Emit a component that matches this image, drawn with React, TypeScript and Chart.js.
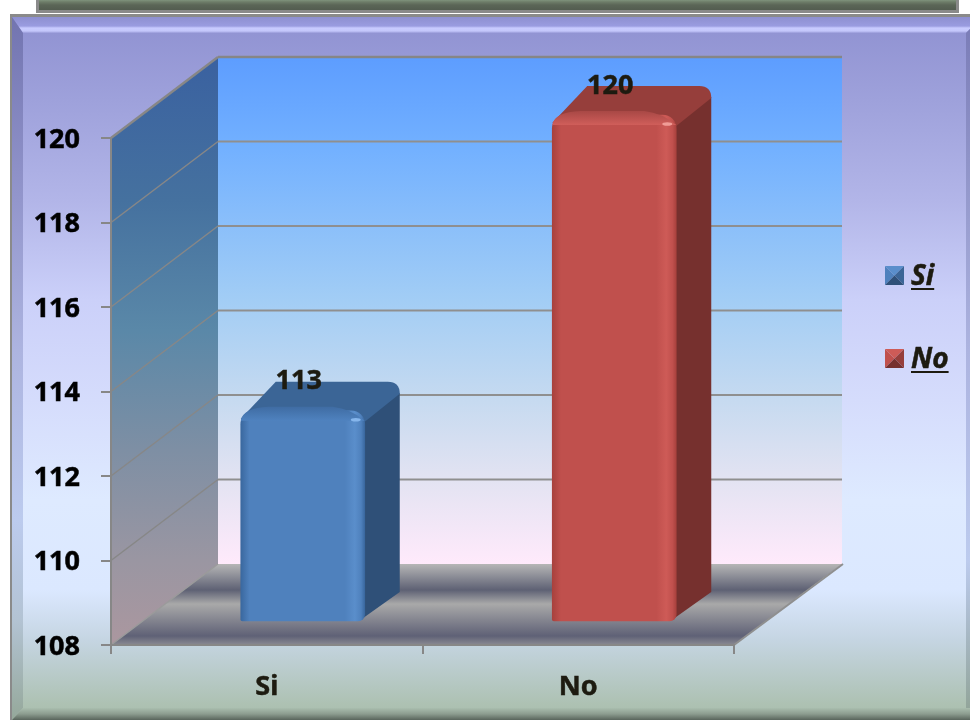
import React, { useEffect, useRef } from "react";
import { Chart, registerables } from "chart.js";

Chart.register(...registerables);

const categories = ["Si", "No"];
const values = [113, 120];
const axisMin = 108;
const axisMax = 120;
const axisStep = 2;

const FONT = '"Noto Sans", sans-serif';
const INK = "#1d1b10";
const LINE = "#878787";

// Depth of the 3D box, in pixels
const WALL_DX = 107;
const WALL_DY = -81;
const BAR_DX = 36;
const BAR_DY = -23;
const BAR_DEPTH_X = 35;
const BAR_DEPTH_Y = -29;
const BAR_WIDTH = 124;

const palettes = [
  { edge: "#3a689f", face: "#4f81bd", glow: "#5a8ecb", side: "#2f5078", top: "#3b6596", bevelA: "#3f6ca3", bevelB: "#4f82bf", spark: "#86b6ec" },
  { edge: "#a8413d", face: "#c0504d", glow: "#ce5b57", side: "#76302e", top: "#963e3b", bevelA: "#a84845", bevelB: "#d05e5a", spark: "#f09c96" },
];

function vGrad(ctx: CanvasRenderingContext2D, y0: number, y1: number, stops: [number, string][]) {
  const g = ctx.createLinearGradient(0, y0, 0, y1);
  stops.forEach(([y, c]) => g.addColorStop((y - y0) / (y1 - y0), c));
  return g;
}

function poly(ctx: CanvasRenderingContext2D, pts: number[][], fill: any) {
  ctx.beginPath();
  pts.forEach(([x, y], i) => (i ? ctx.lineTo(x, y) : ctx.moveTo(x, y)));
  ctx.closePath();
  ctx.fillStyle = fill;
  ctx.fill();
}

function line(ctx: CanvasRenderingContext2D, x0: number, y0: number, x1: number, y1: number, w = 2, c = LINE) {
  ctx.beginPath();
  ctx.moveTo(x0, y0);
  ctx.lineTo(x1, y1);
  ctx.lineWidth = w;
  ctx.strokeStyle = c;
  ctx.stroke();
}

const framePlugin = {
  id: "frame",
  beforeDraw(chart: any) {
    const c: CanvasRenderingContext2D = chart.ctx;
    c.save();
    c.fillStyle = "#ffffff";
    c.fillRect(0, 0, 970, 720);

    // banner cut off at the top
    c.fillStyle = "#8a8a8a";
    c.fillRect(36, 0, 923, 13);
    c.fillStyle = vGrad(c, 0, 10, [[0, "#7f937d"], [2, "#6d7c68"], [5, "#5b6657"], [10, "#535d50"]]);
    c.fillRect(39, 0, 917, 10);

    // chart panel
    c.fillStyle = "#8a8a8a";
    c.fillRect(10, 14, 960, 706);
    const panel = vGrad(c, 17, 720, [
      [17, "#8f91d1"], [100, "#9ea1db"], [200, "#b2b5e8"], [300, "#cbd0f9"], [400, "#d5dcfc"],
      [500, "#deeaff"], [590, "#dbe8ff"], [640, "#c5d5e2"], [705, "#adc1b2"], [720, "#a8bbac"],
    ]);
    c.fillStyle = panel;
    c.fillRect(12, 17, 958, 703);

    // bevel strips
    poly(c, [[12, 17], [970, 17], [970, 29], [966, 33], [23, 33]],
      vGrad(c, 17, 33, [[17, "#8d8fd0"], [26, "#9a9ce0"], [28, "#c8cbff"], [31, "#c4c7fb"], [33, "#9799d8"]]));
    poly(c, [[12, 17], [23, 33], [23, 708], [12, 720]],
      vGrad(c, 17, 720, [[17, "#7274b0"], [200, "#9396cc"], [350, "#adb4e0"], [520, "#bccbee"], [620, "#b3c3d3"], [720, "#95a89a"]]));
    poly(c, [[966, 33], [970, 29], [970, 720], [966, 716]],
      vGrad(c, 29, 720, [[29, "#7b7db8"], [350, "#adb4e0"], [560, "#bccbee"], [720, "#8fa294"]]));
    poly(c, [[12, 720], [23, 708], [970, 708], [970, 720]],
      vGrad(c, 708, 720, [[708, "#a9bdae"], [714, "#8c9c8f"], [720, "#59655c"]]));

    const { left, right, bottom } = chart.chartArea;
    const yScale = chart.scales.y;
    const yTop = yScale.getPixelForValue(axisMax);
    const backL = left + WALL_DX;
    const backR = right + WALL_DX + 1;
    const backT = yTop + WALL_DY;
    const backB = bottom + WALL_DY;

    // back wall
    c.fillStyle = vGrad(c, backT, backB, [
      [backT, "#5d9dff"], [150, "#73b1ff"], [300, "#a2cdf5"], [400, "#c6daf0"], [480, "#e3e3f2"], [backB, "#ffeafb"],
    ]);
    c.fillRect(backL, backT, backR - backL, backB - backT);

    // side wall
    poly(c, [[left, yTop], [backL, backT], [backL, backB], [left, bottom]],
      vGrad(c, backT, bottom, [[backT, "#3a61a0"], [200, "#45719f"], [330, "#5a88a8"], [450, "#7e8fa4"], [560, "#9a96a2"], [bottom, "#ab979f"]]));

    // floor
    poly(c, [[backL, backB], [backR, backB], [right, bottom], [left, bottom]],
      vGrad(c, backB, bottom, [[backB, "#b6b6b6"], [590, "#5e6174"], [604, "#a9a9a9"], [636, "#5f6176"], [bottom, "#8a8a92"]]));

    // gridlines from the value scale, on the back and the side wall
    yScale.ticks.forEach((t: any) => {
      const y = yScale.getPixelForValue(t.value);
      const atTop = t.value === axisMax;
      const atBase = t.value === axisMin;
      line(c, left, y, backL, y + WALL_DY, atTop ? 2.5 : 1.5, atBase ? "#9a9a9a" : LINE);
      if (!atBase) line(c, backL, y + WALL_DY, backR, y + WALL_DY, atTop ? 2.5 : 2, atTop ? "#868686" : "#8f8f8f");
    });
    line(c, right, bottom, backR + 1, backB, 2, "#8f8f8f");
    c.restore();
  },
};

function barGeom(el: any) {
  const half = el.width / 2;
  return {
    xl: el.x - half + BAR_DX,
    xr: el.x + half + BAR_DX,
    y: el.y + BAR_DY,
    b: el.base + BAR_DY,
  };
}

const bar3dPlugin = {
  id: "bar3d",
  beforeDatasetDraw(chart: any, args: any) {
    const c: CanvasRenderingContext2D = chart.ctx;
    c.save();
    args.meta.data.forEach((el: any, i: number) => {
      const p = palettes[i];
      const { xl, xr, y, b } = barGeom(el);
      const dx = BAR_DEPTH_X;
      const dy = BAR_DEPTH_Y;
      // side face
      poly(c, [[xr - 3, y + 9], [xr + dx, y + dy + 11], [xr + dx, b + dy], [xr - 3, b - 2]], p.side);
      // top face
      c.beginPath();
      c.moveTo(xl, y + 8);
      c.lineTo(xl + dx, y + dy);
      c.lineTo(xr + dx - 12, y + dy);
      c.quadraticCurveTo(xr + dx, y + dy, xr + dx, y + dy + 12);
      c.lineTo(xr, y + 11);
      c.closePath();
      c.fillStyle = p.top;
      c.fill();
    });
    c.restore();
    c.save();
    c.translate(BAR_DX, BAR_DY);
  },
  afterDatasetDraw(chart: any, args: any) {
    const c: CanvasRenderingContext2D = chart.ctx;
    c.restore();
    c.save();
    args.meta.data.forEach((el: any, i: number) => {
      const p = palettes[i];
      const { xl, xr, y } = barGeom(el);
      // rounded front bevel
      c.beginPath();
      c.moveTo(xl, y + 10);
      c.quadraticCurveTo(xl + 2, y - 3, xl + 28, y - 4);
      c.lineTo(xr - 32, y - 4);
      c.quadraticCurveTo(xr - 14, y - 2, xr, y + 10);
      c.closePath();
      c.fillStyle = vGrad(c, y - 4, y + 10, [[y - 4, p.bevelA], [y + 10, p.bevelB]]);
      c.fill();
      // highlight on the corner
      c.beginPath();
      c.ellipse(xr - 9, y + 9, 5, 1.8, 0, 0, Math.PI * 2);
      c.fillStyle = p.spark;
      c.fill();
    });
    c.restore();
  },
  afterDatasetsDraw(chart: any) {
    const c: CanvasRenderingContext2D = chart.ctx;
    const meta = chart.getDatasetMeta(0);
    c.save();
    // value labels
    c.font = `bold 27px ${FONT}`;
    c.fillStyle = INK;
    c.strokeStyle = INK;
    c.lineWidth = 0.5;
    c.textAlign = "center";
    c.textBaseline = "middle";
    meta.data.forEach((el: any, i: number) => {
      c.fillText(String(values[i]), el.x + 32, el.y - 52);
      c.strokeText(String(values[i]), el.x + 32, el.y - 52);
    });

    // legend
    const legendY = [266, 349];
    const sx = 885;
    const s = 19;
    categories.forEach((name, i) => {
      const p = palettes[i];
      const y = legendY[i];
      const cx = sx + s / 2;
      const cy = y + s / 2;
      poly(c, [[sx, y], [sx + s, y], [cx, cy]], p.glow);
      poly(c, [[sx, y], [cx, cy], [sx, y + s]], p.face);
      poly(c, [[sx + s, y], [cx, cy], [sx + s, y + s]], p.top);
      poly(c, [[sx, y + s], [cx, cy], [sx + s, y + s]], p.side);
      c.font = `italic bold 28px ${FONT}`;
      c.fillStyle = INK;
      c.textAlign = "left";
      c.textBaseline = "alphabetic";
      const tx = 911;
      const base = y + 19;
      c.fillText(name, tx, base);
      c.strokeText(name, tx, base);
      const w = c.measureText(name).width;
      c.fillRect(tx, base + 3, w, 2);
    });
    c.restore();
  },
};

export default function App() {
  const ref = useRef<HTMLCanvasElement | null>(null);

  useEffect(() => {
    const canvas = ref.current;
    if (!canvas) return;
    const chart = new Chart(canvas, {
      type: "bar",
      data: {
        labels: categories,
        datasets: [
          {
            label: "Respuestas",
            data: values,
            base: axisMin,
            barThickness: BAR_WIDTH,
            clip: false,
            borderSkipped: false,
            borderWidth: 0,
            borderRadius: { topLeft: 14, topRight: 14, bottomLeft: 2, bottomRight: 7 },
            backgroundColor: (ctx: any) => {
              const chartRef = ctx.chart;
              const p = palettes[ctx.dataIndex ?? 0];
              const xs = chartRef.scales.x;
              if (!xs || !chartRef.chartArea) return p.face;
              const cx = xs.getPixelForValue(ctx.dataIndex ?? 0);
              const x0 = cx - BAR_WIDTH / 2;
              const g = chartRef.ctx.createLinearGradient(x0, 0, x0 + BAR_WIDTH, 0);
              g.addColorStop(0, p.edge);
              g.addColorStop(0.07, p.face);
              g.addColorStop(0.84, p.face);
              g.addColorStop(0.92, p.glow);
              g.addColorStop(0.97, p.face);
              g.addColorStop(1, p.edge);
              return g;
            },
          },
        ],
      },
      options: {
        responsive: false,
        animation: false,
        layout: { autoPadding: false, padding: { left: 0, top: 138, right: 236, bottom: 0 } },
        plugins: { legend: { display: false }, tooltip: { enabled: false }, title: { display: false } },
        scales: {
          x: {
            afterFit: (s: any) => {
              s.height = 75;
            },
            grid: { drawOnChartArea: false, drawTicks: true, tickLength: 9, color: LINE, lineWidth: 2 },
            border: { color: LINE, width: 2 },
            ticks: { color: INK, font: { family: FONT, size: 27, weight: "bold" }, padding: 17, maxRotation: 0, textStrokeColor: INK, textStrokeWidth: 0.5 },
          },
          y: {
            min: axisMin,
            max: axisMax,
            afterFit: (s: any) => {
              s.width = 111;
            },
            grid: { drawOnChartArea: false, drawTicks: true, tickLength: 10, color: LINE, lineWidth: 2 },
            border: { color: LINE, width: 2 },
            ticks: { stepSize: axisStep, color: "#000000", font: { family: FONT, size: 27, weight: "bold" }, padding: 21, labelOffset: 2, textStrokeColor: "#000000", textStrokeWidth: 0.5 },
          },
        },
      } as any,
      plugins: [framePlugin, bar3dPlugin] as any,
    });
    return () => chart.destroy();
  }, []);

  return (
    <canvas
      ref={ref}
      width={970}
      height={720}
      style={{ position: "fixed", left: 0, top: 0, width: 970, height: 720, display: "block" }}
    />
  );
}
